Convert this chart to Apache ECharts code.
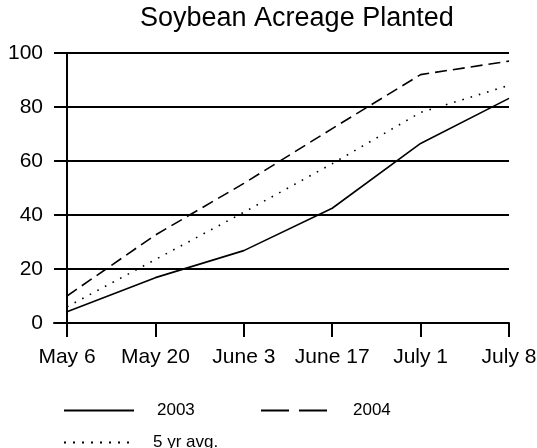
<!DOCTYPE html>
<html>
<head>
<meta charset="utf-8">
<script src="https://cdn.jsdelivr.net/npm/echarts@6/dist/echarts.min.js"></script>
<style>
html,body{margin:0;padding:0;background:#fff;}
#chart{width:537px;height:448px;}
</style>
</head>
<body>
<div id="chart"></div>
<script>
const categories = ['May 6', 'May 20', 'June 3', 'June 17', 'July 1', 'July 8'];
const seriesNames = ['2003', '2004', '5 yr avg.'];
const values2003 = [4.2, 16.8, 26.8, 42.5, 66.5, 83.2];
const values2004 = [10, 32.6, 51.7, 72, 92, 97];
const values5yr = [6, 23.5, 41, 59, 78, 88];
const yTickLabels = [0, 20, 40, 60, 80, 100];

const FONT = "'Liberation Sans', Arial, sans-serif";
const INK = '#000';
const NONE = 'rgba(0,0,0,0)';
const idx = categories.map((c, i) => i);
const toPairs = arr => arr.map((v, i) => [i, v]);

const chart = echarts.init(document.getElementById('chart'), null, {renderer: 'canvas'});
chart.setOption({
  animation: false,
  backgroundColor: '#fff',
  title: {
    text: 'Soybean Acreage Planted',
    left: 140, top: 5, padding: 0,
    textStyle: {fontFamily: FONT, fontSize: 27, fontWeight: 'normal', color: INK}
  },
  grid: {left: 54, right: 28, top: 53, bottom: 125, containLabel: false, outerBoundsMode: 'none'},
  xAxis: {
    type: 'value',
    min: -0.147, max: categories.length - 1,
    axisLine: {show: true, onZero: true, lineStyle: {color: INK, width: 2}},
    axisTick: {show: true, length: 14, inside: false, customValues: idx, lineStyle: {color: INK, width: 2}},
    axisLabel: {
      show: true, customValues: idx, margin: 24,
      fontFamily: FONT, fontSize: 21, color: INK,
      formatter: v => categories[Math.round(v)] || ''
    },
    splitLine: {show: false}
  },
  yAxis: {
    type: 'value',
    min: yTickLabels[0], max: yTickLabels[yTickLabels.length - 1], interval: 20,
    axisLine: {show: true, onZero: true, lineStyle: {color: INK, width: 2}},
    axisTick: {show: true, length: 13, inside: false, lineStyle: {color: INK, width: 2}},
    axisLabel: {margin: 11, fontFamily: FONT, fontSize: 21, color: INK},
    splitLine: {show: true, lineStyle: {color: INK, width: 2}}
  },
  legend: [
    {
      data: [seriesNames[0]], left: 63, top: 402, padding: 0,
      itemWidth: 70, itemHeight: 14,
      itemStyle: {opacity: 0},
      textStyle: {fontFamily: FONT, fontSize: 17, color: INK, padding: [0, 0, 0, 18]}
    },
    {
      data: [seriesNames[1]], left: 260, top: 402, padding: 0,
      itemWidth: 66, itemHeight: 14,
      itemStyle: {opacity: 0},
      lineStyle: {type: [28, 10]},
      textStyle: {fontFamily: FONT, fontSize: 17, color: INK, padding: [0, 0, 0, 21]}
    },
    {
      data: [seriesNames[2]], left: 63, top: 434, padding: 0,
      itemWidth: 70, itemHeight: 14,
      itemStyle: {opacity: 0},
      lineStyle: {type: [2, 7]},
      textStyle: {fontFamily: FONT, fontSize: 17, color: INK, padding: [0, 0, 0, 14]}
    }
  ],
  series: [
    {
      name: seriesNames[0], type: 'line', data: toPairs(values2003),
      symbol: 'none', itemStyle: {color: NONE, borderColor: NONE},
      lineStyle: {color: INK, width: 1.6, type: 'solid'}
    },
    {
      name: seriesNames[1], type: 'line', data: toPairs(values2004),
      symbol: 'none', itemStyle: {color: NONE, borderColor: NONE},
      lineStyle: {color: INK, width: 1.6, type: [12, 6]}
    },
    {
      name: seriesNames[2], type: 'line', data: toPairs(values5yr),
      symbol: 'none', itemStyle: {color: NONE, borderColor: NONE},
      lineStyle: {color: INK, width: 1.6, type: [1.6, 7]}
    }
  ]
});
</script>
</body>
</html>
